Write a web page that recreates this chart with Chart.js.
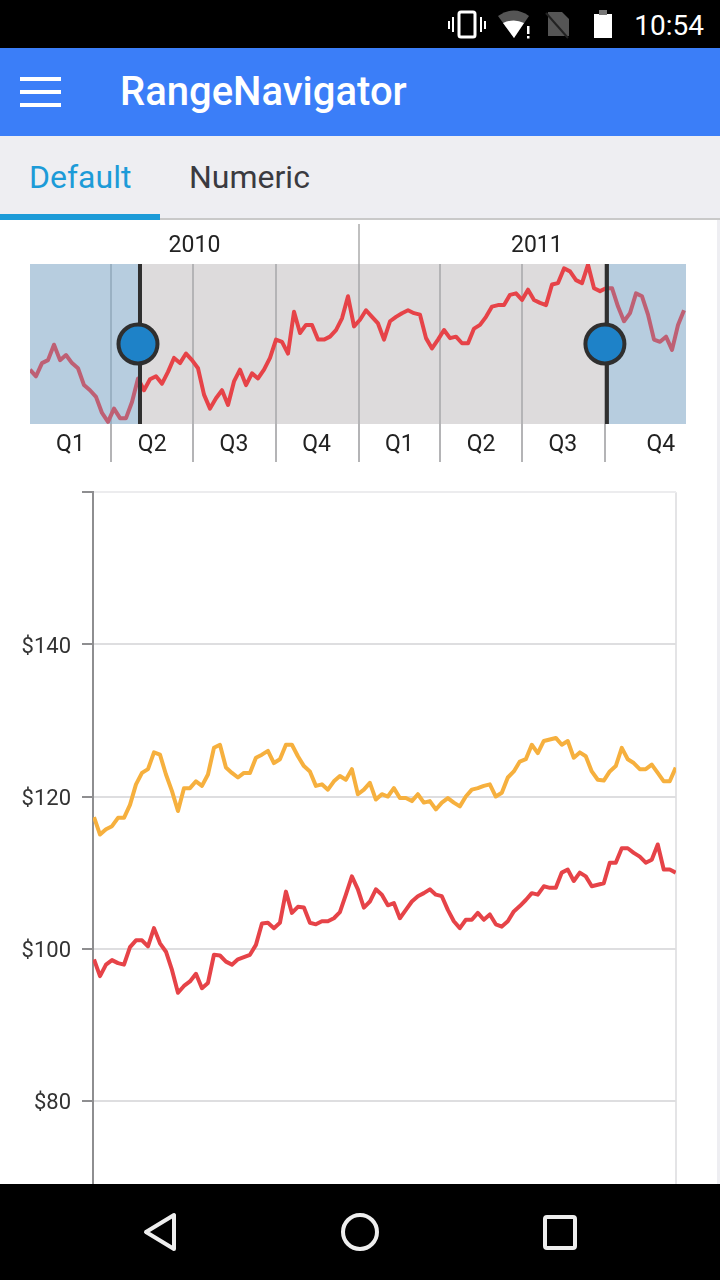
<!DOCTYPE html>
<html>
<head>
<meta charset="utf-8">
<title>RangeNavigator</title>
<script src="https://cdn.jsdelivr.net/npm/chart.js@4/dist/chart.umd.min.js"></script>
<style>
  html, body { margin: 0; padding: 0; background: #fff; }
  body { width: 720px; height: 1280px; position: relative; overflow: hidden; font-family: Roboto, sans-serif; }
  .abs { position: absolute; }
  #status { left: 0; top: 0; width: 720px; height: 48px; background: #000; z-index: 5; }
  #clock { right: 16px; top: 7px; color: #fff; font-size: 28px; line-height: 38px; }
  #appbar { left: 0; top: 48px; width: 720px; height: 88px; background: #3b7ef8; z-index: 5; }
  #title { left: 120px; top: 19px; color: #fff; font-size: 40px; line-height: 50px; font-weight: 500; }
  .bar { left: 20px; width: 41px; height: 4px; background: #fff; }
  #tabs { left: 0; top: 136px; width: 720px; height: 82px; background: #eeeef2; border-bottom: 2px solid #c9c9c9; z-index: 4; }
  .tab { top: 20px; font-size: 32px; line-height: 42px; }
  #underline { left: 0; top: 78px; width: 160px; height: 6px; background: #1c9bd8; }
  #edge { left: 717px; top: 220px; width: 3px; height: 964px; background: #eeeef2; z-index: 3; }
  #nav { left: 0; top: 222px; }
  #main { left: 0; top: 468px; }
  #softkeys { left: 0; top: 1184px; width: 720px; height: 96px; background: #000; z-index: 5; }
</style>
</head>
<body>
<div id="status" class="abs">
  <svg class="abs" style="left:0;top:0" width="720" height="48" fill="none">
    <rect x="459" y="12" width="16" height="25" rx="2" stroke="#fff" stroke-width="3"/>
    <path d="M453 17v15M481 17v15M449 21v8M485 21v8" stroke="#fff" stroke-width="2"/>
    <path d="M498 16q16-11 31 0l-15 22z" fill="#555"/>
    <path d="M503 23q11-5 21 0l-10 15z" fill="#fff"/>
    <rect x="527" y="26" width="2.5" height="8" fill="#fff"/><rect x="527" y="36" width="2.5" height="2.5" fill="#fff"/>
    <path d="M548 12h14l7 7v17h-21z" fill="#555"/><path d="M546 13l22 25" stroke="#222" stroke-width="2"/>
    <rect x="594" y="14" width="18" height="24" fill="#fff"/><rect x="599" y="10" width="8" height="5" fill="#777"/>
  </svg>
  <div id="clock" class="abs">10:54</div>
</div>
<div id="appbar" class="abs">
  <div class="abs bar" style="top:29px"></div>
  <div class="abs bar" style="top:42px"></div>
  <div class="abs bar" style="top:55px"></div>
  <div id="title" class="abs">RangeNavigator</div>
</div>
<div id="tabs" class="abs">
  <div class="abs tab" style="left:29px;color:#1c9bd8">Default</div>
  <div class="abs tab" style="left:189px;color:#3a3a40">Numeric</div>
  <div id="underline" class="abs"></div>
</div>
<div id="edge" class="abs"></div>
<canvas id="nav" class="abs" width="720" height="248"></canvas>
<canvas id="main" class="abs" width="720" height="812"></canvas>
<div id="softkeys" class="abs">
  <svg class="abs" style="left:0;top:0" width="720" height="96" fill="none" stroke="#eee" stroke-width="4" stroke-linejoin="round">
    <path d="M174 31v34l-28-17z"/>
    <circle cx="360" cy="48" r="17"/>
    <rect x="545" y="33" width="30" height="31" rx="2"/>
  </svg>
</div>

<script>
// selected window, chart values in dollars
const redMain = [
  98.6,96.4,97.9,98.5,98.1,97.9,100.2,101.1,101.1,100.3,102.7,100.7,99.6,97.2,94.2,95.1,95.7,96.7,94.8,95.5,
  99.2,99.1,98.3,97.9,98.6,98.9,99.2,100.5,103.3,103.4,102.7,103.4,107.5,104.7,105.5,105.4,103.4,103.2,103.6,103.6,
  104.0,104.8,107.1,109.5,107.8,
  105.4,106.2,107.8,107.1,105.7,106.0,104.0,105.1,106.2,106.9,107.3,107.8,107.1,106.9,105.1,103.6,102.7,103.8,103.8,104.7,
  103.8,104.5,103.2,102.9,103.6,104.9,105.6,106.4,107.3,107.1,108.2,108.0,108.0,110.0,110.4,108.9,110.0,109.5,108.2,108.4,
  108.6,111.3,111.3,113.2,113.2,112.6,112.1,111.3,111.7,113.7,110.4,110.4,110.0
];
const orangeMain = [
  117.3,115.0,115.7,116.1,117.2,117.2,118.9,121.6,123.1,123.6,125.8,125.5,122.9,120.7,118.1,121.1,121.1,122.0,121.4,122.9,
  126.4,126.8,123.8,123.1,122.5,123.1,123.1,125.1,125.5,126.0,124.4,124.9,126.8,126.8,125.3,124.0,123.3,121.4,121.6,120.9,
  122.0,122.7,122.2,123.6,120.3,
  120.9,121.8,119.6,120.3,120.0,121.1,119.8,119.8,119.4,120.3,119.2,119.4,118.3,119.2,119.8,119.2,118.7,120.0,120.9,121.1,
  121.4,121.6,120.0,120.5,122.5,123.3,124.6,124.9,126.8,125.7,127.3,127.5,127.7,126.8,127.3,125.1,125.8,125.3,123.3,122.2,
  122.1,123.3,124.0,126.4,124.9,124.4,123.6,123.6,124.2,123.1,122.0,122.0,123.8
];
// whole two years, shown in the navigator
const redNav = [
  99.4,98.5,100.3,100.7,102.8,100.7,101.4,100.3,99.6,97.3,96.6,95.7,93.5,92.3,94.1,92.8,92.8,95.0,98.2,96.6,
  98.1,98.5,97.5,99.1,101.0,100.3,101.6,100.7,99.6,96.0,94.1,95.5,96.6,94.6,97.8,99.4,97.3,98.9,98.2,99.4,
  101.0,103.5,103.2,101.6,107.3,104.4,105.5,105.5,103.5,103.5,103.9,104.8,106.4,109.4,105.3,
  106.2,107.5,106.6,105.7,103.5,106.0,106.6,107.1,107.5,107.1,106.9,103.7,102.3,103.5,104.8,103.7,103.9,103.0,103.0,105.0,
  105.5,106.6,108.0,108.2,108.2,109.6,109.8,108.9,110.3,108.9,108.5,108.2,111.0,111.2,113.2,112.8,111.6,111.2,113.7,110.5,
  110.1,110.5,110.5,108.0,106.0,107.1,109.8,109.4,106.9,103.5,103.2,103.9,102.1,105.5,107.5
];

const yTicks = [80, 100, 120, 140, 160];
const selection = [122.4, 642];       // days since 1 Jan 2010
const quarterEdges = [90, 181, 274, 366, 456, 547, 640];
const quarterLabels = ["Q1", "Q2", "Q3", "Q4", "Q1", "Q2", "Q3", "Q4"];
const quarterCentres = [45, 136, 227, 319, 411, 502, 593, 702];
const yearEdges = [366];
const yearLabels = ["2010", "2011"];
const yearCentres = [183, 564];

const RED = "#e64348";
const ORANGE = "#f6b03e";
const mainDays = redMain.map((_, i) => 123.3 + i * 5.345);
const navDays = redNav.map((_, i) => i * 6.677);
const pairs = (xs, ys) => ys.map((y, i) => ({ x: xs[i], y }));

Chart.defaults.animation = false;
Chart.defaults.font.family = "Roboto";
Chart.defaults.plugins.legend.display = false;
Chart.defaults.plugins.tooltip.enabled = false;

function line(data, color, width) {
  return { data, borderColor: color, borderWidth: width, pointRadius: 0, tension: 0, borderJoinStyle: "round" };
}

// grey band behind the navigator plot
const navBackground = {
  id: "navBackground",
  beforeDraw(chart) {
    const a = chart.chartArea;
    chart.ctx.fillStyle = "#dddbdc";
    chart.ctx.fillRect(a.left, a.top, a.width, a.height);
  }
};

// unselected shading and the two handles
const navHandles = {
  id: "navHandles",
  afterDatasetsDraw(chart) {
    const { ctx, chartArea: a, scales } = chart;
    const x0 = scales.x.getPixelForValue(selection[0]);
    const x1 = scales.x.getPixelForValue(selection[1]);
    ctx.save();
    ctx.fillStyle = "rgba(87,170,231,0.283)";
    ctx.fillRect(a.left, a.top, x0 - a.left, a.height);
    ctx.fillRect(x1, a.top, a.right - x1, a.height);
    ctx.strokeStyle = "#2f2f2f";
    ctx.lineWidth = 4;
    [x0, x1].forEach(x => {
      ctx.beginPath();
      ctx.moveTo(x, a.top);
      ctx.lineTo(x, a.bottom);
      ctx.stroke();
    });
    [x0 - 2, x1 - 2].forEach(x => {
      ctx.beginPath();
      ctx.arc(x, a.top + 80, 19.5, 0, Math.PI * 2);
      ctx.fillStyle = "#1e82c8";
      ctx.fill();
      ctx.stroke();
    });
    ctx.restore();
  }
};

function setTicks(values) {
  return scale => { scale.ticks = values.map(value => ({ value })); };
}

new Chart(document.getElementById("nav"), {
  type: "line",
  data: { datasets: [line(pairs(navDays, redNav), RED, 4)] },
  plugins: [navBackground, navHandles],
  options: {
    responsive: false,
    devicePixelRatio: 1,
    parsing: false,
    layout: { padding: { left: 30, right: 34, top: 0, bottom: 0 } },
    scales: {
      x: {
        type: "linear", position: "bottom", min: 0, max: 730,
        afterBuildTicks: setTicks([...quarterEdges, ...quarterCentres]),
        afterFit: s => { s.height = 46; },
        border: { display: false },
        grid: {
          lineWidth: 2, tickLength: 38,
          color: c => quarterEdges.includes(c.tick.value) ? "#b4b4b6" : "transparent",
          tickColor: c => quarterEdges.includes(c.tick.value) ? "#b4b4b6" : "transparent"
        },
        ticks: {
          autoSkip: false, maxRotation: 0, padding: -31, color: "#222", font: { size: 23 },
          callback: v => quarterLabels[quarterCentres.indexOf(v)] || ""
        }
      },
      top: {
        type: "linear", position: "top", min: 0, max: 730,
        afterBuildTicks: setTicks([...yearEdges, ...yearCentres]),
        afterFit: s => { s.height = 42; },
        border: { display: false },
        grid: {
          lineWidth: 2, tickLength: 40, drawOnChartArea: false,
          tickColor: c => yearEdges.includes(c.tick.value) ? "#c0c0c0" : "transparent"
        },
        ticks: {
          autoSkip: false, maxRotation: 0, padding: -36, color: "#222", font: { size: 23 },
          callback: v => yearLabels[yearCentres.indexOf(v)] || ""
        }
      },
      y: { display: false, min: 92, max: 113.8 }
    }
  }
});

new Chart(document.getElementById("main"), {
  type: "line",
  data: { datasets: [line(pairs(mainDays, orangeMain), ORANGE, 4), line(pairs(mainDays, redMain), RED, 4)] },
  options: {
    responsive: false,
    devicePixelRatio: 1,
    parsing: false,
    layout: { padding: { top: 0, right: 44, bottom: 27, left: 0 } },
    scales: {
      x: {
        type: "linear", min: selection[0], max: selection[1],
        afterBuildTicks: setTicks([selection[1]]),
        afterFit: s => { s.height = 0; },
        border: { display: false },
        grid: { color: "#e4e4e6", lineWidth: 2, drawTicks: false },
        ticks: { display: false }
      },
      y: {
        min: 60, max: 160,
        afterBuildTicks: setTicks(yTicks),
        afterFit: s => { s.width = 93; },
        border: { color: "#8e8e90", width: 2 },
        grid: {
          color: c => c.tick.value === 160 ? "#ececee" : "#dedee0",
          lineWidth: 2, tickLength: 11, tickColor: "#8e8e90"
        },
        ticks: {
          padding: 11, color: "#333", font: { size: 22 }, labelOffset: 3,
          callback: v => v === 160 ? "" : "$" + v
        }
      }
    }
  }
});
</script>
</body>
</html>
